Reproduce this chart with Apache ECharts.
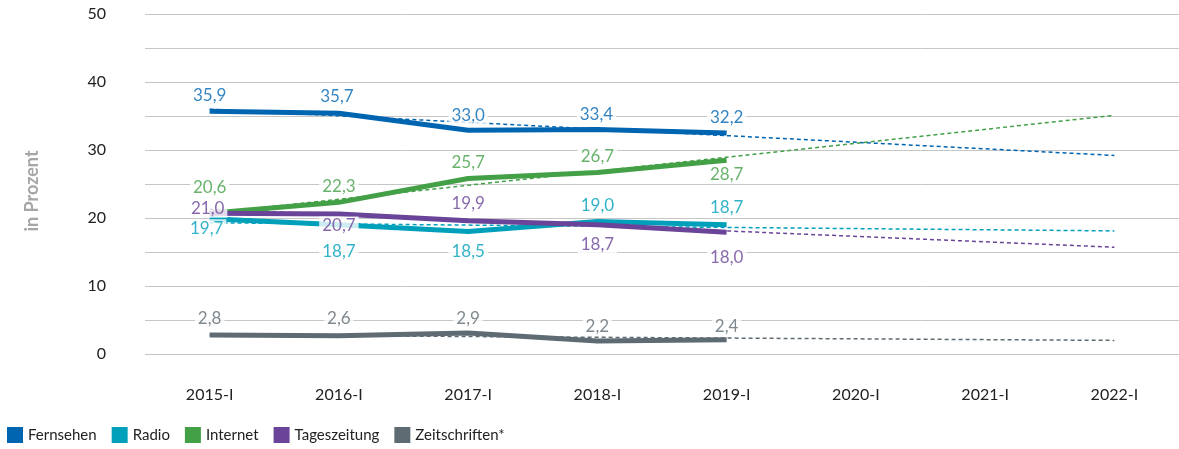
<!DOCTYPE html>
<html>
<head>
<meta charset="utf-8">
<script src="https://cdn.jsdelivr.net/npm/echarts@6/dist/echarts.min.js"></script>
<style>
  html, body { margin: 0; padding: 0; background: #fff; }
  #chart { width: 1179px; height: 449px; }
</style>
</head>
<body>
<div id="chart"></div>
<script>
// Kategorien (x-Achse)
const categories = ['2015-I', '2016-I', '2017-I', '2018-I', '2019-I', '2020-I', '2021-I', '2022-I']
const seriesNames = ['Fernsehen', 'Radio', 'Internet', 'Tageszeitung', 'Zeitschriften*']

// Linienwerte
const fernsehen = [35.7, 35.4, 32.9, 33.0, 32.5]
const radio = [19.9, 19.0, 18.0, 19.5, 19.0]
const internet = [20.7, 22.3, 25.8, 26.7, 28.5]
const tageszeitung = [20.7, 20.6, 19.6, 19.0, 17.9]
const zeitschriften = [2.8, 2.7, 3.1, 1.9, 2.1]

// Beschriftungen an den Punkten
const fernsehenLabels = ['35,9', '35,7', '33,0', '33,4', '32,2']
const radioLabels = ['19,7', '18,7', '18,5', '19,0', '18,7']
const internetLabels = ['20,6', '22,3', '25,7', '26,7', '28,7']
const tageszeitungLabels = ['21,0', '20,7', '19,9', '18,7', '18,0']
const zeitschriftenLabels = ['2,8', '2,6', '2,9', '2,2', '2,4']

// Trendlinien: Wert bei 2015-I und bei 2022-I
const fernsehenTrend = [36.0, 29.2]
const radioTrend = [19.3, 18.1]
const internetTrend = [20.7, 35.1]
const tageszeitungTrend = [21.3, 15.7]
const zeitschriftenTrend = [2.8, 2.0]

const values = [fernsehen, radio, internet, tageszeitung, zeitschriften]
const labels = [fernsehenLabels, radioLabels, internetLabels, tageszeitungLabels, zeitschriftenLabels]
const trends = [fernsehenTrend, radioTrend, internetTrend, tageszeitungTrend, zeitschriftenTrend]

const colors = ['#0065b1', '#00a0bb', '#43a047', '#6a4498', '#5f6b73']

// Lage der Beschriftungen relativ zum Punkt [dx, dy]
const labelOffsets = [
  [[0, -16], [-2, -17], [0, -15], [-1, -15], [0, -15]],
  [[-3, 10], [0, 27], [0, 20], [0, -16], [0, -17]],
  [[0, -26], [0, -16], [0, -16], [0, -16], [0, 14]],
  [[-2, -5], [0, 12], [0, -17], [0, 20], [0, 25]],
  [[0, -16], [0, -17], [0, -14], [0, -15], [0, -13]]
]

const font = 'Lato'
const trendSeries = []
const lineSeries = []
const labelSeries = []

seriesNames.forEach((name, i) => {
  const color = colors[i]
  trendSeries.push({
    name,
    type: 'line',
    data: [[0, trends[i][0]], [categories.length - 1, trends[i][1]]],
    symbol: 'none',
    silent: true,
    z: 1,
    itemStyle: { color },
    lineStyle: { color, width: 1.5, type: [4, 3] }
  })
  lineSeries.push({
    name,
    type: 'line',
    data: values[i],
    symbol: 'none',
    z: 2,
    itemStyle: { color },
    lineStyle: { color, width: 5 }
  })
  // Beschriftungen in eigener Ebene, damit sie über den Linien liegen
  labelSeries.push({
    name,
    type: 'scatter',
    data: values[i].map((v, j) => ({ value: v, label: { offset: labelOffsets[i][j] } })),
    symbolSize: 1,
    zlevel: 1,
    z: 10,
    itemStyle: { color: 'rgba(0,0,0,0)' },
    label: {
      show: true,
      position: 'inside',
      formatter: p => labels[i][p.dataIndex],
      color,
      fontFamily: font,
      fontSize: 17,
      backgroundColor: '#fff',
      padding: [1, 3]
    }
  })
})

const chart = echarts.init(document.getElementById('chart'))
chart.setOption({
  animation: false,
  textStyle: { fontFamily: font },
  grid: { left: 145, right: 0, top: 14, bottom: 95 },
  legend: {
    data: seriesNames,
    icon: 'rect',
    left: 7,
    top: 427,
    padding: 0,
    itemWidth: 16,
    itemHeight: 16,
    itemGap: 15,
    textStyle: { fontFamily: font, fontSize: 15, color: '#222' }
  },
  xAxis: {
    type: 'category',
    data: categories,
    boundaryGap: true,
    axisLine: { show: false },
    axisTick: { show: false },
    axisLabel: { fontFamily: font, fontSize: 16, color: '#222', margin: 33 }
  },
  yAxis: {
    type: 'value',
    min: 0,
    max: 50,
    interval: 5,
    name: 'in Prozent',
    nameLocation: 'middle',
    nameGap: 104,
    nameTextStyle: {
      fontFamily: font,
      fontSize: 18,
      fontWeight: 'bold',
      color: '#a6a6a6',
      padding: [0, 14, 0, 0]
    },
    axisLine: { show: false },
    axisTick: { show: false },
    axisLabel: {
      fontFamily: font,
      fontSize: 16,
      color: '#222',
      margin: 39,
      formatter: v => (v % 10 === 0 ? v : '')
    },
    splitLine: { lineStyle: { color: '#c6c6c6', width: 1 } }
  },
  series: [...trendSeries, ...lineSeries, ...labelSeries]
})
</script>
</body>
</html>
